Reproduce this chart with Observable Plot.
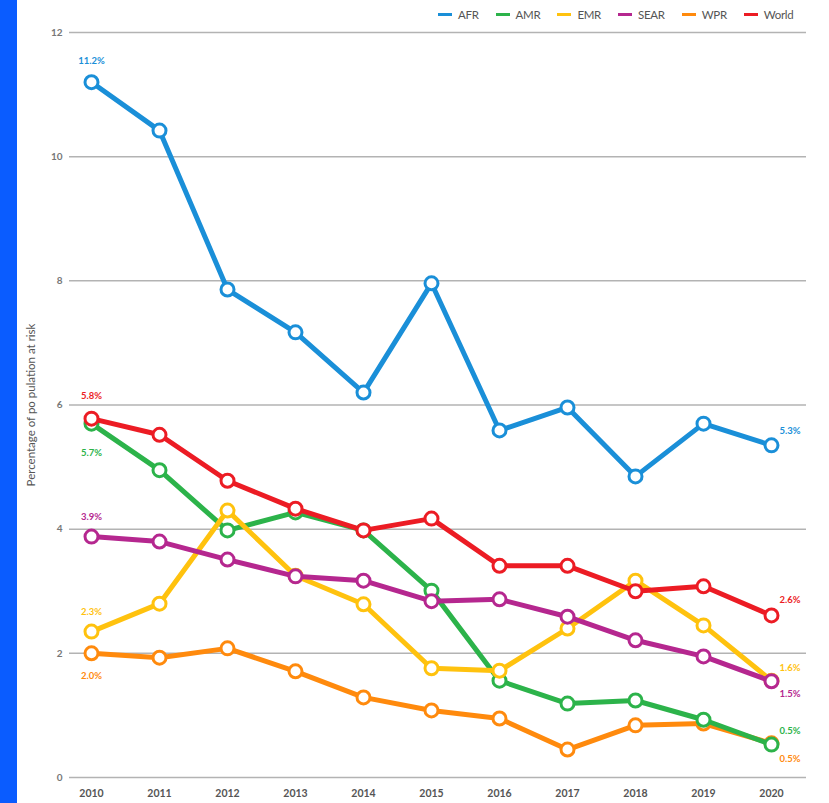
<!DOCTYPE html>
<html><head><meta charset="utf-8">
<script src="https://cdn.jsdelivr.net/npm/d3@7"></script>
<script src="https://cdn.jsdelivr.net/npm/@observablehq/plot@0.6"></script>
<style>
body{margin:0;background:#fff;font-family:Lato,"Open Sans",sans-serif;}
#wrap{position:relative;width:829px;height:803px;overflow:hidden;background:#fff;}
#bar{position:absolute;left:0;top:0;width:17px;height:803px;background:#0a5cff;}
#chart{position:absolute;left:0;top:0;}
#legend{position:absolute;top:8px;left:438px;display:flex;gap:17px;font-size:11.5px;color:#555;letter-spacing:-0.3px;}
#legend .it{display:flex;align-items:center;}
#legend .sw{display:inline-block;width:14px;height:3px;margin-right:6px;}
</style></head>
<body><div id="wrap"><div id="chart"></div><div id="bar"></div><div id="legend"></div></div>
<script>
const years = [2010,2011,2012,2013,2014,2015,2016,2017,2018,2019,2020];
const seriesNames = ["AFR","AMR","EMR","SEAR","WPR","World"];
const seriesColors = ["#1a8fd8","#2cb34a","#ffc20e","#b5278f","#ff8a0d","#ec1c24"];
const afr   = [11.2,10.42,7.86,7.17,6.2,7.96,5.59,5.96,4.85,5.7,5.35];
const amr   = [5.7,4.95,3.98,4.27,3.98,3.01,1.56,1.19,1.24,0.93,0.53];
const emr   = [2.35,2.8,4.3,3.25,2.79,1.76,1.72,2.4,3.17,2.45,1.56];
const sear  = [3.88,3.8,3.51,3.24,3.17,2.84,2.87,2.59,2.21,1.95,1.55];
const wpr   = [2.0,1.93,2.08,1.71,1.29,1.08,0.95,0.45,0.84,0.87,0.55];
const world = [5.78,5.52,4.78,4.33,3.98,4.17,3.41,3.41,3.0,3.08,2.61];
const startLabels = ["11.2%","5.7%","2.3%","3.9%","2.0%","5.8%"];
const endLabels   = ["5.3%","0.5%","1.6%","1.5%","0.5%","2.6%"];
const yTicks = [0,2,4,6,8,10,12];
const yLabel = "Percentage of po pulation at risk";

const seriesValues = [afr, amr, emr, sear, wpr, world];
const color = Object.fromEntries(seriesNames.map((s,i)=>[s,seriesColors[i]]));
const rows = seriesNames.flatMap((s,i)=>years.map((y,j)=>({series:s, year:y, value:seriesValues[i][j]})));
const labelRows = seriesNames.flatMap((s,i)=>[
  {series:s, year:years[0], value:seriesValues[i][0], text:startLabels[i], end:"start"},
  {series:s, year:years[years.length-1], value:seriesValues[i][years.length-1], text:endLabels[i], end:"end"}
]);

// label placement (style only)
const place = {
  "AFR|start":[0,-21,"middle"], "World|start":[0,-23,"middle"], "AMR|start":[0,29,"middle"],
  "SEAR|start":[0,-20,"middle"], "EMR|start":[0,-20,"middle"], "WPR|start":[0,23,"middle"],
  "AFR|end":[8,-14,"start"], "World|end":[8,-16,"start"], "EMR|end":[8,-13,"start"],
  "SEAR|end":[8,13,"start"], "AMR|end":[8,-14,"start"], "WPR|end":[8,16,"start"]
};

const drawOrder = ["WPR","AMR","EMR","SEAR","World","AFR"];
const marks = [
  Plot.ruleY(yTicks, {stroke:"#b3b3b3", strokeWidth:1.5}),
  Plot.axisY(yTicks, {tickSize:0, tickPadding:7, fill:"#777", fontSize:10, fontWeight:"bold",
    tickFormat:d=>String(d), label:null}),
  Plot.text([yLabel], {frameAnchor:"left", textAnchor:"middle", rotate:-90, dx:-38, fill:"#555", fontSize:11.5}),
  Plot.axisX(years, {tickSize:0, tickPadding:12, fill:"#555", fontSize:10.5, fontWeight:"bold",
    tickFormat:d=>String(d), label:null})
];
for (const s of drawOrder) {
  const d = rows.filter(r=>r.series===s);
  marks.push(Plot.line(d, {x:"year", y:"value", stroke:color[s], strokeWidth:5, strokeLinejoin:"round"}));
  marks.push(Plot.dot(d, {x:"year", y:"value", r:6.5, fill:"white", stroke:color[s], strokeWidth:3}));
}
for (const l of labelRows) {
  const [dx,dy,anchor] = place[l.series+"|"+l.end];
  marks.push(Plot.text([l], {x:"year", y:"value", text:"text", dx, dy, textAnchor:anchor,
    fill:color[l.series], fontSize:9.5, fontWeight:"bold"}));
}

const chart = Plot.plot({
  width:829, height:803,
  marginTop:32, marginBottom:26, marginLeft:69, marginRight:23,
  style:{fontFamily:"Lato, 'Open Sans', sans-serif", background:"transparent"},
  x:{domain:[2010,2020], insetLeft:22, insetRight:35},
  y:{domain:[0,12]},
  marks
});
document.getElementById("chart").appendChild(chart);
const lg = document.getElementById("legend");
seriesNames.forEach((s,i)=>{
  const it=document.createElement("div"); it.className="it";
  const sw=document.createElement("span"); sw.className="sw"; sw.style.background=seriesColors[i];
  const tx=document.createElement("span"); tx.textContent=s;
  it.appendChild(sw); it.appendChild(tx); lg.appendChild(it);
});
</script></body></html>
